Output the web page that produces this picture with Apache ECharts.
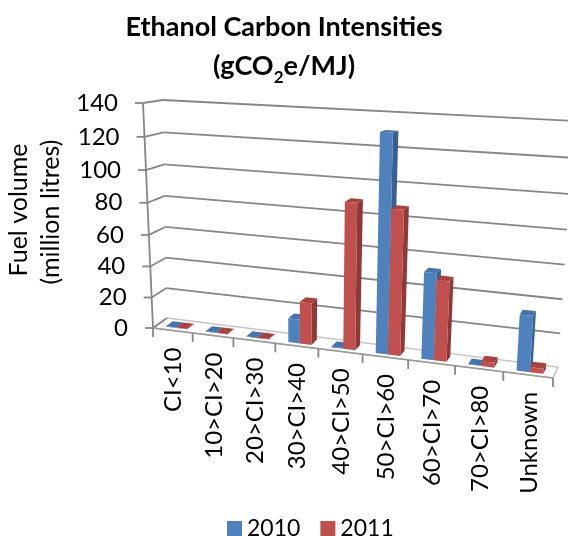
<!DOCTYPE html>
<html>
<head>
<meta charset="utf-8">
<script src="https://cdn.jsdelivr.net/npm/echarts@6/dist/echarts.min.js"></script>
<style>
  html, body { margin: 0; padding: 0; background: #fff; }
  #chart { width: 568px; height: 536px; }
</style>
</head>
<body>
<div id="chart"></div>
<script>
// Fuel volume (million litres) by carbon-intensity band
const categories = ['CI<10', '10>CI>20', '20>CI>30', '30>CI>40', '40>CI>50',
                    '50>CI>60', '60>CI>70', '70>CI>80', 'Unknown'];
const values2010 = [0.3, 0.3, 0.3, 15, 0.5, 130, 52, 0.3, 33];
const values2011 = [0.3, 0.3, 0.3, 26, 89, 87, 48, 3, 3];
const yTicks = [0, 20, 40, 60, 80, 100, 120, 140];
const seriesNames = ['2010', '2011'];

const FONT = 'Lato, "Open Sans", sans-serif';
const BLUE = { front: '#4F81BD', side: '#385F8F', top: '#4674AD' };
const RED  = { front: '#C0504D', side: '#8E3937', top: '#A9423F' };

// Perspective frame of the 3D plot box: the front plane (value axis side)
// and the back wall, each given by its four corners
// [bottom-left, bottom-right, top-right, top-left].
const FRONT_QUAD = [[153, 328], [553, 378], [570, 124], [143, 103]];
const BACK_QUAD  = [[167, 318], [558, 367], [574, 121], [163, 100]];

// Homography from the unit square onto a quadrilateral
function squareToQuad(q) {
  const [x0, y0] = q[0], [x1, y1] = q[1], [x2, y2] = q[2], [x3, y3] = q[3];
  const sx = x0 - x1 + x2 - x3, sy = y0 - y1 + y2 - y3;
  const dx1 = x1 - x2, dx2 = x3 - x2, dy1 = y1 - y2, dy2 = y3 - y2;
  const den = dx1 * dy2 - dx2 * dy1;
  const g = (sx * dy2 - dx2 * sy) / den;
  const h = (dx1 * sy - sx * dy1) / den;
  const a = x1 - x0 + g * x1, b = x3 - x0 + h * x3, c = x0;
  const d = y1 - y0 + g * y1, e = y3 - y0 + h * y3, f = y0;
  return function (s, t) {
    const w = g * s + h * t + 1;
    return [(a * s + b * t + c) / w, (d * s + e * t + f) / w];
  };
}
const frontMap = squareToQuad(FRONT_QUAD);
const backMap = squareToQuad(BACK_QUAD);

// Builds a projector: (u = position along the category axis in category
// units, v = value, d = depth 0 front .. 1 back) -> screen point, going
// through the cartesian axes first.
function makeProjector(params, api) {
  const r = params.coordSys;
  const band = api.size([1, 0])[0];
  const n = categories.length;
  return function (u, v, d) {
    const idx = Math.max(0, Math.min(n - 1, Math.floor(u)));
    const p = api.coord([idx, v]);
    const px = p[0] + (u - idx - 0.5) * band;
    const s = (px - r.x) / r.width;
    const t = (r.y + r.height - p[1]) / r.height;
    const f = frontMap(s, t), b = backMap(s, t);
    return [f[0] + (b[0] - f[0]) * d, f[1] + (b[1] - f[1]) * d];
  };
}

function line(p, q, color, width) {
  return {
    type: 'line',
    shape: { x1: p[0], y1: p[1], x2: q[0], y2: q[1] },
    style: { stroke: color, lineWidth: width }
  };
}

// Walls, floor, axes and their labels
function renderFrame(params, api) {
  const P = makeProjector(params, api);
  const n = categories.length;
  const vMax = yTicks[yTicks.length - 1];
  const children = [];

  // floor
  children.push({
    type: 'polygon',
    shape: { points: [P(0, 0, 0), P(n, 0, 0), P(n, 0, 1), P(0, 0, 1)] },
    style: { fill: '#ffffff', stroke: '#c4c4c4', lineWidth: 1.5 }
  });

  // gridlines on the back wall and the thin left wall
  yTicks.forEach(function (v) {
    if (v > 0) children.push(line(P(0, v, 1), P(n, v, 1), '#868686', 1.8));
    children.push(line(P(0, v, 0), P(0, v, 1), '#868686', 1.8));
  });

  // value axis with tick marks and labels
  children.push(line(P(0, 0, 0), P(0, vMax, 0), '#868686', 1.8));
  yTicks.forEach(function (v) {
    const p = P(0, v, 0);
    children.push(line([p[0] - 8, p[1]], p, '#868686', 1.8));
    children.push({
      type: 'text',
      x: p[0] - 25, y: p[1],
      style: {
        text: String(v), fill: '#000', fontFamily: FONT, fontSize: 24,
        align: 'right', verticalAlign: 'middle'
      }
    });
  });

  // category axis: front edge, ticks and rotated labels
  children.push(line(P(0, 0, 0), P(n, 0, 0), '#9a9a9a', 1.6));
  for (let i = 0; i <= n; i++) {
    const p = P(i, 0, 0);
    children.push(line(p, [p[0], p[1] + 9], '#868686', 1.8));
  }
  categories.forEach(function (name, i) {
    const p = P(i + 0.5, 0, 0);
    children.push({
      type: 'text',
      x: p[0] + 1, y: p[1] + 17,
      rotation: Math.PI / 2,
      style: {
        text: name, fill: '#000', fontFamily: FONT, fontSize: 24,
        align: 'right', verticalAlign: 'middle'
      }
    });
  });

  return { type: 'group', children: children };
}

// One 3D column: right side, top, then front face
function barRenderer(offset0, offset1, colors) {
  return function (params, api) {
    const P = makeProjector(params, api);
    const i = api.value(0);
    const v = api.value(1);
    const u0 = i + offset0, u1 = i + offset1;
    const d0 = 0.25, d1 = 0.75;
    return {
      type: 'group',
      children: [
        { type: 'polygon',
          shape: { points: [P(u1, 0, d0), P(u1, 0, d1), P(u1, v, d1), P(u1, v, d0)] },
          style: { fill: colors.side } },
        { type: 'polygon',
          shape: { points: [P(u0, v, d0), P(u1, v, d0), P(u1, v, d1), P(u0, v, d1)] },
          style: { fill: colors.top } },
        { type: 'polygon',
          shape: { points: [P(u0, 0, d0), P(u1, 0, d0), P(u1, v, d0), P(u0, v, d0)] },
          style: { fill: colors.front } }
      ]
    };
  };
}

const chart = echarts.init(document.getElementById('chart'), null, { renderer: 'canvas' });

chart.setOption({
  animation: false,
  backgroundColor: '#ffffff',
  title: {
    left: 'center',
    top: 3,
    text: '{a|Ethanol Carbon Intensities}\n{a|(gCO}{s|2}{a|e/MJ)}',
    textStyle: {
      rich: {
        a: { fontFamily: FONT, fontWeight: 'bold', fontSize: 27, color: '#000',
             lineHeight: 39, verticalAlign: 'middle' },
        s: { fontFamily: FONT, fontWeight: 'bold', fontSize: 17, color: '#000',
             lineHeight: 24, verticalAlign: 'bottom' }
      }
    }
  },
  legend: {
    data: seriesNames,
    left: 222,
    top: 512,
    icon: 'rect',
    itemWidth: 15,
    itemHeight: 15,
    itemGap: 20,
    textStyle: { fontFamily: FONT, fontSize: 23, color: '#000' }
  },
  graphic: [
    { type: 'text', x: 19, y: 210, rotation: Math.PI / 2,
      style: { text: 'Fuel volume', fill: '#000', fontFamily: FONT, fontSize: 25,
               align: 'center', verticalAlign: 'middle' } },
    { type: 'text', x: 51, y: 212, rotation: Math.PI / 2,
      style: { text: '(million litres)', fill: '#000', fontFamily: FONT, fontSize: 25,
               align: 'center', verticalAlign: 'middle' } }
  ],
  grid: { left: 153, top: 103, width: 400, height: 225 },
  xAxis: { type: 'category', data: categories, show: false },
  yAxis: { type: 'value', min: 0, max: 140, interval: 20, show: false },
  series: [
    {
      name: 'frame', type: 'custom', silent: true, clip: false, z: 1,
      data: [[0, 0]],
      renderItem: renderFrame
    },
    {
      name: seriesNames[0], type: 'custom', silent: true, clip: false, z: 2,
      itemStyle: { color: BLUE.front },
      data: values2010.map(function (v, i) { return [i, v]; }),
      renderItem: barRenderer(0.24, 0.51, BLUE)
    },
    {
      name: seriesNames[1], type: 'custom', silent: true, clip: false, z: 3,
      itemStyle: { color: RED.front },
      data: values2011.map(function (v, i) { return [i, v]; }),
      renderItem: barRenderer(0.51, 0.78, RED)
    }
  ]
});
</script>
</body>
</html>
